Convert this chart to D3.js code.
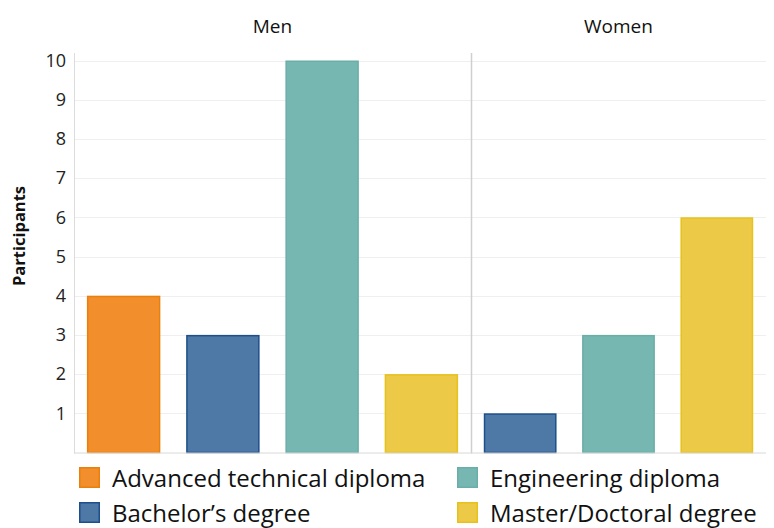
<!DOCTYPE html>
<html>
<head>
<meta charset="utf-8">
<script src="https://cdn.jsdelivr.net/npm/d3@7"></script>
<style>
  html, body { margin: 0; padding: 0; background: #fff; }
  svg { display: block; font-family: "Open Sans", "Noto Sans", sans-serif; }
</style>
</head>
<body>
<svg id="chart" width="774" height="528"></svg>
<script>
// Participants by degree, split by gender
const degrees = ["Advanced technical diploma", "Bachelor’s degree", "Engineering diploma", "Master/Doctoral degree"];
const panels = ["Men", "Women"];
const menDegrees = ["Advanced technical diploma", "Bachelor’s degree", "Engineering diploma", "Master/Doctoral degree"];
const menValues = [4, 3, 10, 2];
const womenDegrees = ["Bachelor’s degree", "Engineering diploma", "Master/Doctoral degree"];
const womenValues = [1, 3, 6];
const yTicks = [1, 2, 3, 4, 5, 6, 7, 8, 9, 10];
const legendOrder = ["Advanced technical diploma", "Engineering diploma", "Bachelor’s degree", "Master/Doctoral degree"];

const fillColor = d3.scaleOrdinal()
  .domain(degrees)
  .range(["#F28E2B", "#4E79A7", "#76B7B2", "#EDC948"]);
const strokeColor = d3.scaleOrdinal()
  .domain(degrees)
  .range(["#E8800E", "#1D4F8A", "#6AAEA8", "#E6C21A"]);

const svg = d3.select("#chart");
const x0 = 74, xSplit = 471, x1 = 766;
const yTop = 60.5, yBase = 452.5;

const y = d3.scaleLinear().domain([0, 10]).range([yBase, yTop]);

// horizontal gridlines
svg.append("g")
  .selectAll("line")
  .data(yTicks)
  .join("line")
  .attr("x1", x0).attr("x2", x1)
  .attr("y1", d => Math.round(y(d)) + 0.5)
  .attr("y2", d => Math.round(y(d)) + 0.5)
  .attr("stroke", "#efefef")
  .attr("stroke-width", 1);

// y axis labels
const yAxis = d3.axisLeft(y).tickValues(yTicks).tickSize(0).tickPadding(8);
const yg = svg.append("g").attr("transform", `translate(${x0},0)`).call(yAxis);
yg.select(".domain").remove();
yg.selectAll("text")
  .attr("font-size", 18)
  .attr("fill", "#222")
  .attr("font-family", "'Open Sans', sans-serif");

// axis title
svg.append("text")
  .attr("transform", `translate(25,236) rotate(-90)`)
  .attr("text-anchor", "middle")
  .attr("font-size", 16.5)
  .attr("font-weight", 700)
  .attr("fill", "#111")
  .text("Participants");

// panels
const panelDefs = [
  { name: panels[0], range: [x0, xSplit], cats: menDegrees, vals: menValues },
  { name: panels[1], range: [xSplit, x1], cats: womenDegrees, vals: womenValues }
];

panelDefs.forEach(p => {
  const x = d3.scaleBand().domain(p.cats).range(p.range).paddingInner(0.26).paddingOuter(0.13);
  const g = svg.append("g");
  g.selectAll("rect")
    .data(p.cats.map((c, i) => ({ cat: c, val: p.vals[i] })))
    .join("rect")
    .attr("x", d => x(d.cat) + 0.75)
    .attr("width", x.bandwidth() - 1.5)
    .attr("y", d => y(d.val) + 0.75)
    .attr("height", d => yBase - y(d.val) - 0.75)
    .attr("fill", d => fillColor(d.cat))
    .attr("stroke", d => strokeColor(d.cat))
    .attr("stroke-width", 1.5);

  svg.append("text")
    .attr("x", (p.range[0] + p.range[1]) / 2)
    .attr("y", 33)
    .attr("text-anchor", "middle")
    .attr("font-size", 19)
    .attr("font-weight", 500)
    .attr("fill", "#111")
    .text(p.name);
});

// axis frame: left axis, baseline and panel divider
svg.append("line").attr("x1", x0 + 0.5).attr("x2", x0 + 0.5).attr("y1", 53).attr("y2", yBase + 1)
  .attr("stroke", "#dcdcdc");
svg.append("line").attr("x1", xSplit + 0.5).attr("x2", xSplit + 0.5).attr("y1", 53).attr("y2", yBase + 1)
  .attr("stroke", "#cfcfcf").attr("stroke-width", 1.5);
svg.append("line").attr("x1", x0).attr("x2", x1).attr("y1", yBase + 0.5).attr("y2", yBase + 0.5)
  .attr("stroke", "#d8d8d8");

// legend, two columns
const legendX = [79, 457];
const legendY = [467, 502];
const lg = svg.append("g");
legendOrder.forEach((name, i) => {
  const col = i % 2, row = Math.floor(i / 2);
  const item = lg.append("g").attr("transform", `translate(${legendX[col]},${legendY[row]})`);
  item.append("rect")
    .attr("x", 0.75).attr("y", 0.75)
    .attr("width", 19.5).attr("height", 19.5)
    .attr("fill", fillColor(name))
    .attr("stroke", strokeColor(name))
    .attr("stroke-width", 1.5);
  item.append("text")
    .attr("x", 33)
    .attr("y", 19.5)
    .attr("font-size", 24)
    .attr("fill", "#111")
    .text(name);
});
</script>
</body>
</html>
